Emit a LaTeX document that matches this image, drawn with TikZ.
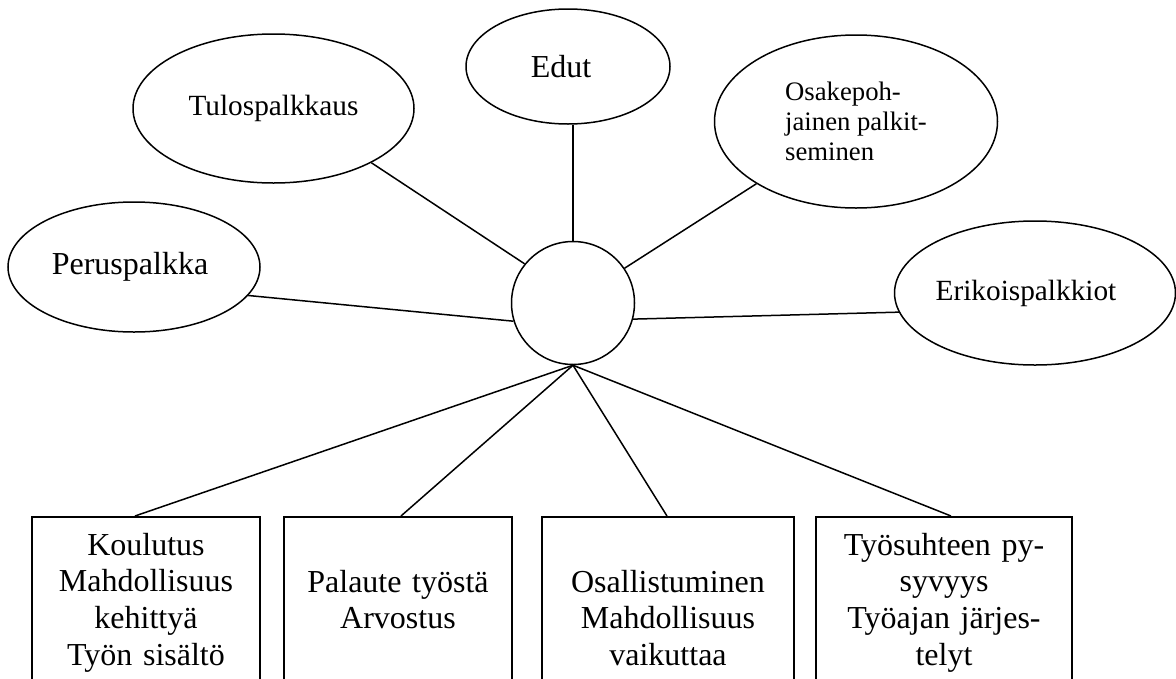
\documentclass[tikz,border=0pt]{standalone}
\usepackage{fontspec}
\setmainfont{Liberation Serif}
\usetikzlibrary{shapes.geometric,calc}
\begin{document}
\begin{tikzpicture}[x=1pt,y=-1pt,line width=1.5pt,
  oval/.style={draw,ellipse,inner sep=0pt},
  hub/.style={draw,circle,inner sep=0pt,minimum size=123pt},
  box/.style={draw,rectangle,inner sep=0pt,minimum height=200pt,anchor=north},
  boxtext/.style={anchor=base,text width=228pt,align=center,inner sep=0pt,font=\fontsize{32}{36.8}\selectfont},
  big/.style={font=\fontsize{32}{36.8}\selectfont},
  mid/.style={font=\fontsize{29.3}{33.7}\selectfont},
  small/.style={font=\fontsize{26.7}{30}\selectfont}]
\useasboundingbox (0,0) rectangle (1176,678);
\clip (0,0) rectangle (1176,678);

\node[hub] (c) at (573,303) {};

\node[oval,big,minimum width=252pt,minimum height=130pt] (perus) at (134,267) {Peruspalkka\hspace*{8pt}};
\node[oval,mid,minimum width=281pt,minimum height=149pt] (tulos) at (273.5,108.5) {Tulospalkkaus};
\node[oval,big,minimum width=204pt,minimum height=115pt] (edut) at (568,66.5) {Edut\hspace*{14pt}};
\node[oval,small,align=left,minimum width=283pt,minimum height=173pt] (osake) at (856,121.5) {Osakepoh-\\jainen palkit-\\seminen};
\node[oval,mid,minimum width=280pt,minimum height=144pt] (erik) at (1035,293) {Erikoispalkkiot\hspace*{18pt}};

\node[box,minimum width=228pt] (b1) at (146,516) {};
\node[box,minimum width=228pt] (b2) at (398,516) {};
\node[box,minimum width=252pt] (b3) at (668,516) {};
\node[box,minimum width=256pt] (b4) at (944,516) {};

\node[boxtext] (t1) at ($(b1.north)+(0,39)$) {Koulutus\\Mahdollisuus\\kehittyä\\Työn sisältö};
\node[boxtext] (t2) at ($(b2.north)+(0,76)$) {Palaute työstä\\Arvostus};
\node[boxtext] (t3) at ($(b3.north)+(0,76)$) {Osallistuminen\\Mahdollisuus\\vaikuttaa};
\node[boxtext] (t4) at ($(b4.north)+(0,39)$) {Työsuhteen py-\\syvyys\\Työajan järjes-\\telyt};

\draw (perus.-14) -- (c.-163.6);
\draw (tulos.-29.2) -- (c.141.5);
\draw (c.north) -- (c.north |- edut.south);
\draw (osake.-148.3) -- (c.34);
\draw (erik.-172) -- (c.-15.6);

\draw (c.south) -- ($(b1.north west)!0.452!(b1.north east)$);
\draw (c.south) -- ($(b2.north west)!0.513!(b2.north east)$);
\draw (c.south) -- ($(b3.north west)!0.496!(b3.north east)$);
\draw (c.south) -- ($(b4.north west)!0.527!(b4.north east)$);
\end{tikzpicture}
\end{document}
